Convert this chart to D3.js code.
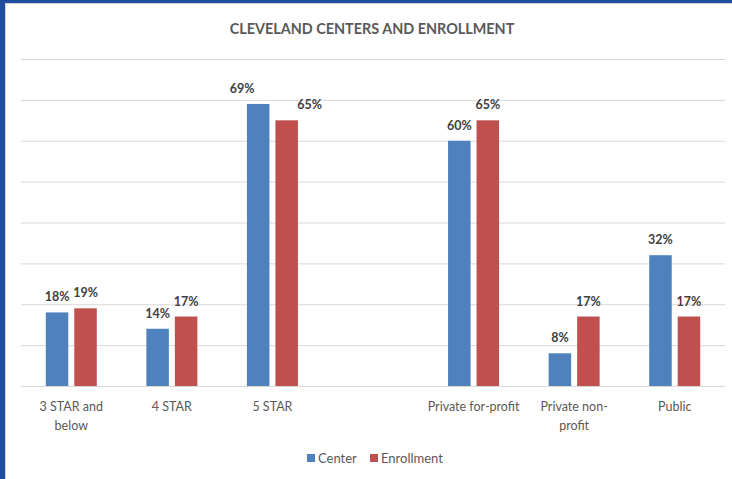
<!DOCTYPE html>
<html>
<head>
<meta charset="utf-8">
<script src="https://cdn.jsdelivr.net/npm/d3@7"></script>
<style>
  body { margin: 0; background: #fff; }
  .label { font-family: Lato, "Open Sans", sans-serif; }
</style>
</head>
<body>
<div id="bar-chart"></div>
<script>
// blank category keeps the gap between the STAR groups and the ownership groups
const categories = ['3 STAR and below', '4 STAR', '5 STAR', '', 'Private for-profit', 'Private non-profit', 'Public'];
const categoryLines = [['3 STAR and', 'below'], ['4 STAR'], ['5 STAR'], [], ['Private for-profit'], ['Private non-', 'profit'], ['Public']];
const seriesNames = ['Center', 'Enrollment'];
const centerValues = [0.18, 0.14, 0.69, null, 0.60, 0.08, 0.32];
const enrollmentValues = [0.19, 0.17, 0.65, null, 0.65, 0.17, 0.17];
const yTicks = [0, 0.1, 0.2, 0.3, 0.4, 0.5, 0.6, 0.7, 0.8];

const colors = ['#4f81bd', '#c0504d'];

let data = categories.map((c, i) => ({
  category: c,
  values: [centerValues[i], enrollmentValues[i]]
}));

//// Chart dimensions
let dimensions = {
  width: 732,
  height: 479,
  margin: { top: 59, right: 7, bottom: 93, left: 21 }
}
dimensions.boundedWidth = dimensions.width - dimensions.margin.left - dimensions.margin.right
dimensions.boundedHeight = dimensions.height - dimensions.margin.top - dimensions.margin.bottom

const wrapper = d3.select('#bar-chart')
  .append('svg')
  .attr('width', dimensions.width)
  .attr('height', dimensions.height)

// frame (blue edge on the left and top)
wrapper.append('rect').attr('x', 0).attr('y', 0).attr('width', 5).attr('height', dimensions.height).style('fill', '#1f4e9c')
wrapper.append('rect').attr('x', 0).attr('y', 0).attr('width', dimensions.width).attr('height', 3).style('fill', '#1f4e9c')
wrapper.append('line').attr('x1', 5.5).attr('x2', 5.5).attr('y1', 3).attr('y2', dimensions.height).attr('stroke', '#cfd3da')
wrapper.append('line').attr('x1', 5).attr('x2', dimensions.width).attr('y1', 3.5).attr('y2', 3.5).attr('stroke', '#cfd3da')

const chart = wrapper.append('g')
  .attr('transform', `translate(${dimensions.margin.left},${dimensions.margin.top})`)

//// Scales
const xScale = d3.scaleBand()
  .domain(categories)
  .range([0, dimensions.boundedWidth])

const groupScale = d3.scaleBand()
  .domain(seriesNames)
  .range([xScale.bandwidth() / 2 - 25.5, xScale.bandwidth() / 2 + 25.5])
  .paddingInner(0.21)

const yScale = d3.scaleLinear()
  .domain([0, 0.8])
  .range([dimensions.boundedHeight, 0])

//// Gridlines
const yAxisGenerator = d3.axisLeft(yScale)
  .tickValues(yTicks)
  .tickSize(-dimensions.boundedWidth)
  .tickFormat('')

const yAxis = chart.append('g').call(yAxisGenerator)
yAxis.select('.domain').remove()
yAxis.selectAll('.tick line').attr('stroke', '#d9d9d9').attr('stroke-width', 1)

//// Bars
const groups = chart.selectAll('g.group')
  .data(data)
  .join('g')
  .attr('class', 'group')
  .attr('transform', d => `translate(${xScale(d.category)},0)`)

groups.selectAll('rect')
  .data(d => d.values.map((v, i) => ({ series: seriesNames[i], value: v, i: i })).filter(e => e.value != null))
  .join('rect')
  .attr('x', d => groupScale(d.series))
  .attr('y', d => yScale(d.value))
  .attr('width', groupScale.bandwidth())
  .attr('height', d => dimensions.boundedHeight - yScale(d.value))
  .style('fill', d => colors[d.i])

// the 5 STAR labels were dragged sideways in the original
const labelNudge = { '5 STAR': [-16, 23] }

groups.selectAll('text.value')
  .data(d => d.values.map((v, i) => ({ series: seriesNames[i], value: v, i: i, cat: d.category })).filter(e => e.value != null))
  .join('text')
  .attr('class', 'label value')
  .attr('x', d => groupScale(d.series) + groupScale.bandwidth() / 2 + (labelNudge[d.cat] ? labelNudge[d.cat][d.i] : 0))
  .attr('y', d => yScale(d.value) - 11)
  .attr('text-anchor', 'middle')
  .style('font-size', '12.5px')
  .style('font-weight', 'bold')
  .style('fill', '#404040')
  .text(d => d3.format('.0%')(d.value))

//// Category labels
const xLabels = chart.append('g')
  .attr('transform', `translate(0,${dimensions.boundedHeight})`)

xLabels.selectAll('text')
  .data(categories.map((c, i) => ({ category: c, lines: categoryLines[i] })))
  .join('text')
  .attr('class', 'label')
  .attr('x', d => xScale(d.category) + xScale.bandwidth() / 2)
  .attr('y', 25)
  .attr('text-anchor', 'middle')
  .style('font-size', '12.5px')
  .style('fill', '#595959')
  .selectAll('tspan')
  .data(d => d.lines)
  .join('tspan')
  .attr('x', function () { return this.parentNode.getAttribute('x') })
  .attr('dy', (d, i) => i === 0 ? 0 : 19)
  .text(d => d)

//// Title
wrapper.append('text')
  .attr('class', 'label')
  .attr('x', 372)
  .attr('y', 34)
  .attr('text-anchor', 'middle')
  .style('font-size', '14.4px')
  .style('font-weight', 'bold')
  .style('fill', '#595959')
  .text('CLEVELAND CENTERS AND ENROLLMENT')

//// Legend
const legend = wrapper.append('g')
  .attr('transform', 'translate(307,454)')

const legendItems = legend.selectAll('g')
  .data(seriesNames)
  .join('g')
  .attr('transform', (d, i) => `translate(${i * 63},0)`)

legendItems.append('rect')
  .attr('width', 8)
  .attr('height', 8)
  .style('fill', (d, i) => colors[i])

legendItems.append('text')
  .attr('class', 'label')
  .attr('x', 11)
  .attr('y', 8.5)
  .style('font-size', '13px')
  .style('fill', '#595959')
  .text(d => d)
</script>
</body>
</html>
